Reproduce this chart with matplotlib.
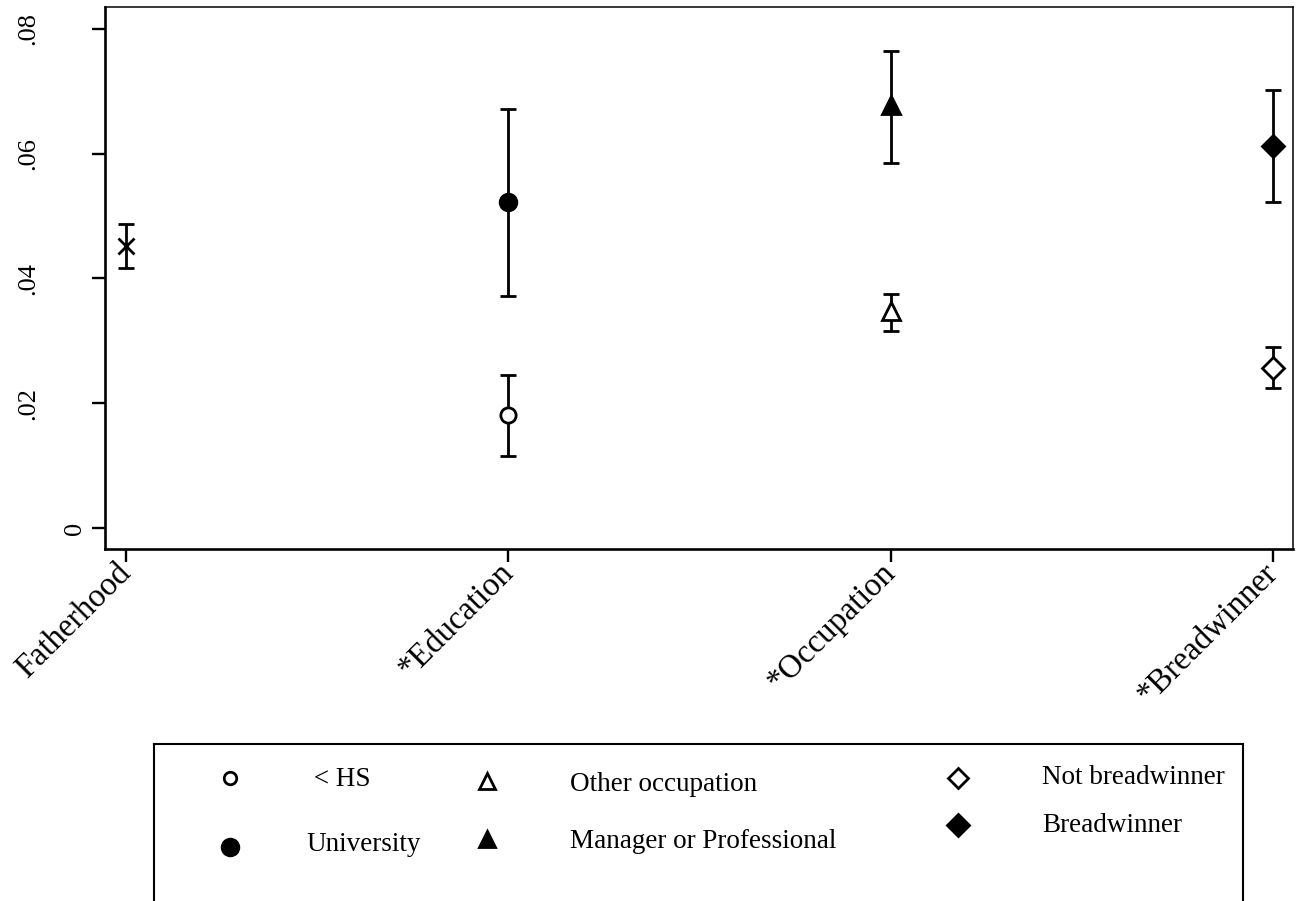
import matplotlib
matplotlib.use("Agg")
import matplotlib.pyplot as plt

plt.rcParams['font.family'] = ['Liberation Serif', 'DejaVu Serif']

# categories on the x axis
categories = ["Fatherhood", "*Education", "*Occupation", "*Breadwinner"]

# one entry per plotted estimate
series_labels = ["Fatherhood", " < HS", "University", "Other occupation",
                 "Manager or Professional", "Not breadwinner", "Breadwinner"]
series_cat = [0, 1, 1, 2, 2, 3, 3]
estimate = [0.0452, 0.0181, 0.0523, 0.0348, 0.0678, 0.0257, 0.0612]
ci_low = [0.0417, 0.0115, 0.0372, 0.0316, 0.0585, 0.0224, 0.0523]
ci_high = [0.0487, 0.0245, 0.0672, 0.0375, 0.0765, 0.0290, 0.0702]
markers = ["x", "o", "o", "^", "^", "D", "D"]
filled = [True, False, True, False, True, False, True]
msize = [11, 11, 12, 13, 13, 11.5, 11.5]

yticks = [0, 0.02, 0.04, 0.06, 0.08]
ytick_labels = ["0", ".02", ".04", ".06", ".08"]

fig = plt.figure(figsize=(13.03, 9.01), dpi=100)
ax = fig.add_axes([105 / 1303, 1 - 549 / 901, 1188 / 1303, 542 / 901])

for i in range(len(estimate)):
    x = series_cat[i]
    ax.errorbar(x, estimate[i],
                yerr=[[estimate[i] - ci_low[i]], [ci_high[i] - estimate[i]]],
                fmt="none", ecolor="black", elinewidth=2.0, capsize=6,
                capthick=2.0, zorder=2)
    ax.plot(x, estimate[i], marker=markers[i], markersize=msize[i],
            markerfacecolor="black" if filled[i] else "white",
            markeredgecolor="black", markeredgewidth=2.0, linestyle="none",
            zorder=3)

ax.set_xlim(-0.055, 3.052)
ax.set_ylim(-0.00337, 0.0835)

ax.set_xticks(range(len(categories)))
ax.set_xticklabels(categories, rotation=45, ha="right", va="center",
                   rotation_mode="anchor", fontsize=23.5)
ax.set_yticks(yticks)
ax.set_yticklabels(ytick_labels, rotation=90, va="center", fontsize=19)

ax.tick_params(axis="both", direction="out", length=9.4, width=1.7,
               color="black")
ax.tick_params(axis="x", pad=4.5)
for t, lab in zip(ax.yaxis.get_major_ticks(), ytick_labels):
    t.set_pad(4 if lab == "0" else 38)

for side in ["left", "bottom"]:
    ax.spines[side].set_linewidth(1.9)
for side in ["top", "right"]:
    ax.spines[side].set_linewidth(1.1)

# legend drawn as its own box, pixel coordinates
lg = fig.add_axes([154 / 1303, 0, (1243 - 154) / 1303, (901 - 744) / 901])
lg.set_xlim(154, 1243)
lg.set_ylim(901, 744)
lg.set_xticks([])
lg.set_yticks([])
lg.spines["bottom"].set_visible(False)
for side in ["left", "top", "right"]:
    lg.spines[side].set_linewidth(1.5)

legend_items = [
    (1, 230, 778, 307, 780),
    (2, 230, 847, 306, 845),
    (3, 487, 781, 570, 785),
    (4, 487, 839, 570, 842),
    (5, 958, 778, 1042, 778),
    (6, 958, 825, 1042, 826),
]
leg_ms = {1: 9, 2: 12, 3: 11, 4: 12, 5: 10, 6: 11.5}
for idx, mx, my, tx, ty in legend_items:
    lg.plot(mx, my, marker=markers[idx], markersize=leg_ms[idx],
            markerfacecolor="black" if filled[idx] else "white",
            markeredgecolor="black", markeredgewidth=2.0, linestyle="none",
            clip_on=False)
    lg.text(tx, ty, series_labels[idx], fontsize=19.5, ha="left",
            va="center")

fig.savefig("out.png", dpi=100)
